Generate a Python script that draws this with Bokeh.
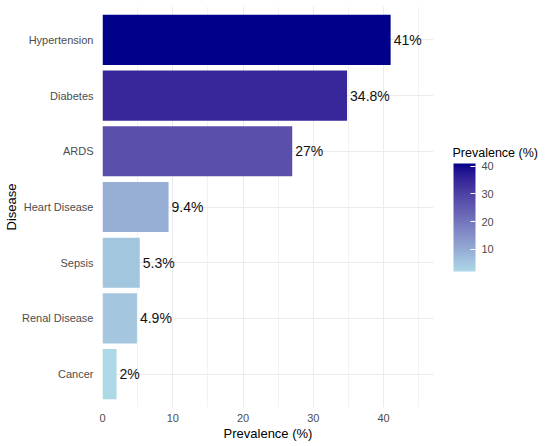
import numpy as np
from bokeh.plotting import figure
from bokeh.models import (ColumnDataSource, FactorRange, Range1d, LinearColorMapper,
                          ColorBar, FixedTicker, Label)
from bokeh.core.properties import value
from bokeh.embed import file_html
from bokeh.resources import INLINE

# ---- data ----
diseases = ["Cancer", "Renal Disease", "Sepsis", "Heart Disease", "ARDS", "Diabetes", "Hypertension"]
prevalence = [2.0, 4.9, 5.3, 9.4, 27.0, 34.8, 41.0]
labels = ["2%", "4.9%", "5.3%", "9.4%", "27%", "34.8%", "41%"]
x_ticks = [0, 10, 20, 30, 40]
legend_ticks = [10, 20, 30, 40]
legend_title = "Prevalence (%)"

LOW_COL = "#ADD8E6"   # lightblue
HIGH_COL = "#00008B"  # darkblue

# ---- Lab interpolation (like ggplot's gradient) ----
def _srgb_to_lin(c):
    c = np.asarray(c, float)
    return np.where(c <= 0.04045, c / 12.92, ((c + 0.055) / 1.055) ** 2.4)

def _lin_to_srgb(c):
    c = np.clip(c, 0, 1)
    return np.where(c <= 0.0031308, 12.92 * c, 1.055 * c ** (1 / 2.4) - 0.055)

M = np.array([[0.4124564, 0.3575761, 0.1804375],
              [0.2126729, 0.7151522, 0.0721750],
              [0.0193339, 0.1191920, 0.9503041]])
WHITE = np.array([0.95047, 1.0, 1.08883])

def hex_to_lab(h):
    rgb = np.array([int(h[i:i + 2], 16) / 255 for i in (1, 3, 5)])
    xyz = M @ _srgb_to_lin(rgb) / WHITE
    f = np.where(xyz > (6 / 29) ** 3, np.cbrt(xyz), xyz / (3 * (6 / 29) ** 2) + 4 / 29)
    return np.array([116 * f[1] - 16, 500 * (f[0] - f[1]), 200 * (f[1] - f[2])])

def lab_to_hex(lab):
    L, a, b = lab
    fy = (L + 16) / 116
    fx = fy + a / 500
    fz = fy - b / 200
    f = np.array([fx, fy, fz])
    xyz = np.where(f > 6 / 29, f ** 3, 3 * (6 / 29) ** 2 * (f - 4 / 29)) * WHITE
    rgb = _lin_to_srgb(np.linalg.solve(M, xyz))
    r, g, bb = (np.round(rgb * 255)).astype(int)
    return "#%02x%02x%02x" % (r, g, bb)

lab_lo, lab_hi = hex_to_lab(LOW_COL), hex_to_lab(HIGH_COL)
palette = [lab_to_hex(lab_lo + (lab_hi - lab_lo) * t) for t in np.linspace(0, 1, 256)]

mapper = LinearColorMapper(palette=palette, low=min(prevalence), high=max(prevalence))

src = ColumnDataSource(dict(disease=diseases, prev=prevalence, label=labels))

p = figure(y_range=FactorRange(factors=diseases, range_padding=0.1, range_padding_units="absolute"),
           x_range=Range1d(0, 47.1),
           frame_width=331, frame_height=401,
           min_border_left=93, min_border_right=108, min_border_top=6, min_border_bottom=20,
           output_backend="svg", toolbar_location=None)

p.hbar(y="disease", right="prev", height=0.9, source=src,
       fill_color={"field": "prev", "transform": mapper}, line_color=None)

p.text(x="prev", y="disease", text="label", source=src, x_offset=3,
       text_baseline="middle", text_align="left", text_color="#111111",
       text_font=value("Liberation Sans"), text_font_size="14px")

p.outline_line_color = None
p.background_fill_color = "white"

# grid
p.xgrid.ticker = FixedTicker(ticks=x_ticks, minor_ticks=[5, 15, 25, 35, 45])
p.xgrid.grid_line_color = "#EBEBEB"
p.xgrid.grid_line_width = 1
p.xgrid.minor_grid_line_color = "#F2F2F2"
p.xgrid.minor_grid_line_width = 1
p.ygrid.grid_line_color = "#EBEBEB"
p.ygrid.grid_line_width = 1

# x axis
xa = p.xaxis[0]
xa.ticker = FixedTicker(ticks=x_ticks)
xa.axis_line_color = None
xa.major_tick_line_color = None
xa.minor_tick_line_color = None
xa.major_label_text_font = "Liberation Sans"
xa.major_label_text_font_size = "11px"
xa.major_label_text_color = "#4D4D4D"
xa.major_label_standoff = 0
xa.axis_label = "Prevalence (%)"
xa.axis_label_text_font = "Liberation Sans"
xa.axis_label_text_font_size = "13px"
xa.axis_label_text_font_style = "normal"
xa.axis_label_text_color = "black"
xa.axis_label_standoff = 1

# y axis
ya = p.yaxis[0]
ya.axis_line_color = None
ya.major_tick_line_color = None
ya.minor_tick_line_color = None
ya.major_label_text_font = "Liberation Sans"
ya.major_label_text_font_size = "11px"
ya.major_label_text_color = "#4D4D4D"
ya.major_label_standoff = 3
ya.axis_label = "Disease"
ya.axis_label_text_font = "Liberation Sans"
ya.axis_label_text_font_size = "13px"
ya.axis_label_text_font_style = "normal"
ya.axis_label_text_color = "black"
ya.axis_label_standoff = 0

# colour bar legend (placed beside the frame)
cb = ColorBar(color_mapper=mapper, ticker=FixedTicker(ticks=legend_ticks),
              width=22, height=108, location=(351, 136),
              major_label_text_font="Liberation Sans", major_label_text_font_size="11px",
              major_label_text_color="#4D4D4D", label_standoff=6,
              major_tick_line_color="white", major_tick_in=5, major_tick_out=0,
              bar_line_color=None, border_line_color=None,
              background_fill_alpha=0, margin=0, padding=0)
p.add_layout(cb, "center")

title = Label(x=19, y=255, x_units="screen", y_units="screen", text=legend_title,
              text_font="Liberation Sans", text_font_size="12.5px", text_color="black",
              text_align="left", text_baseline="middle")
p.add_layout(title, "right")

open("out.html", "w").write(file_html(p, INLINE))
